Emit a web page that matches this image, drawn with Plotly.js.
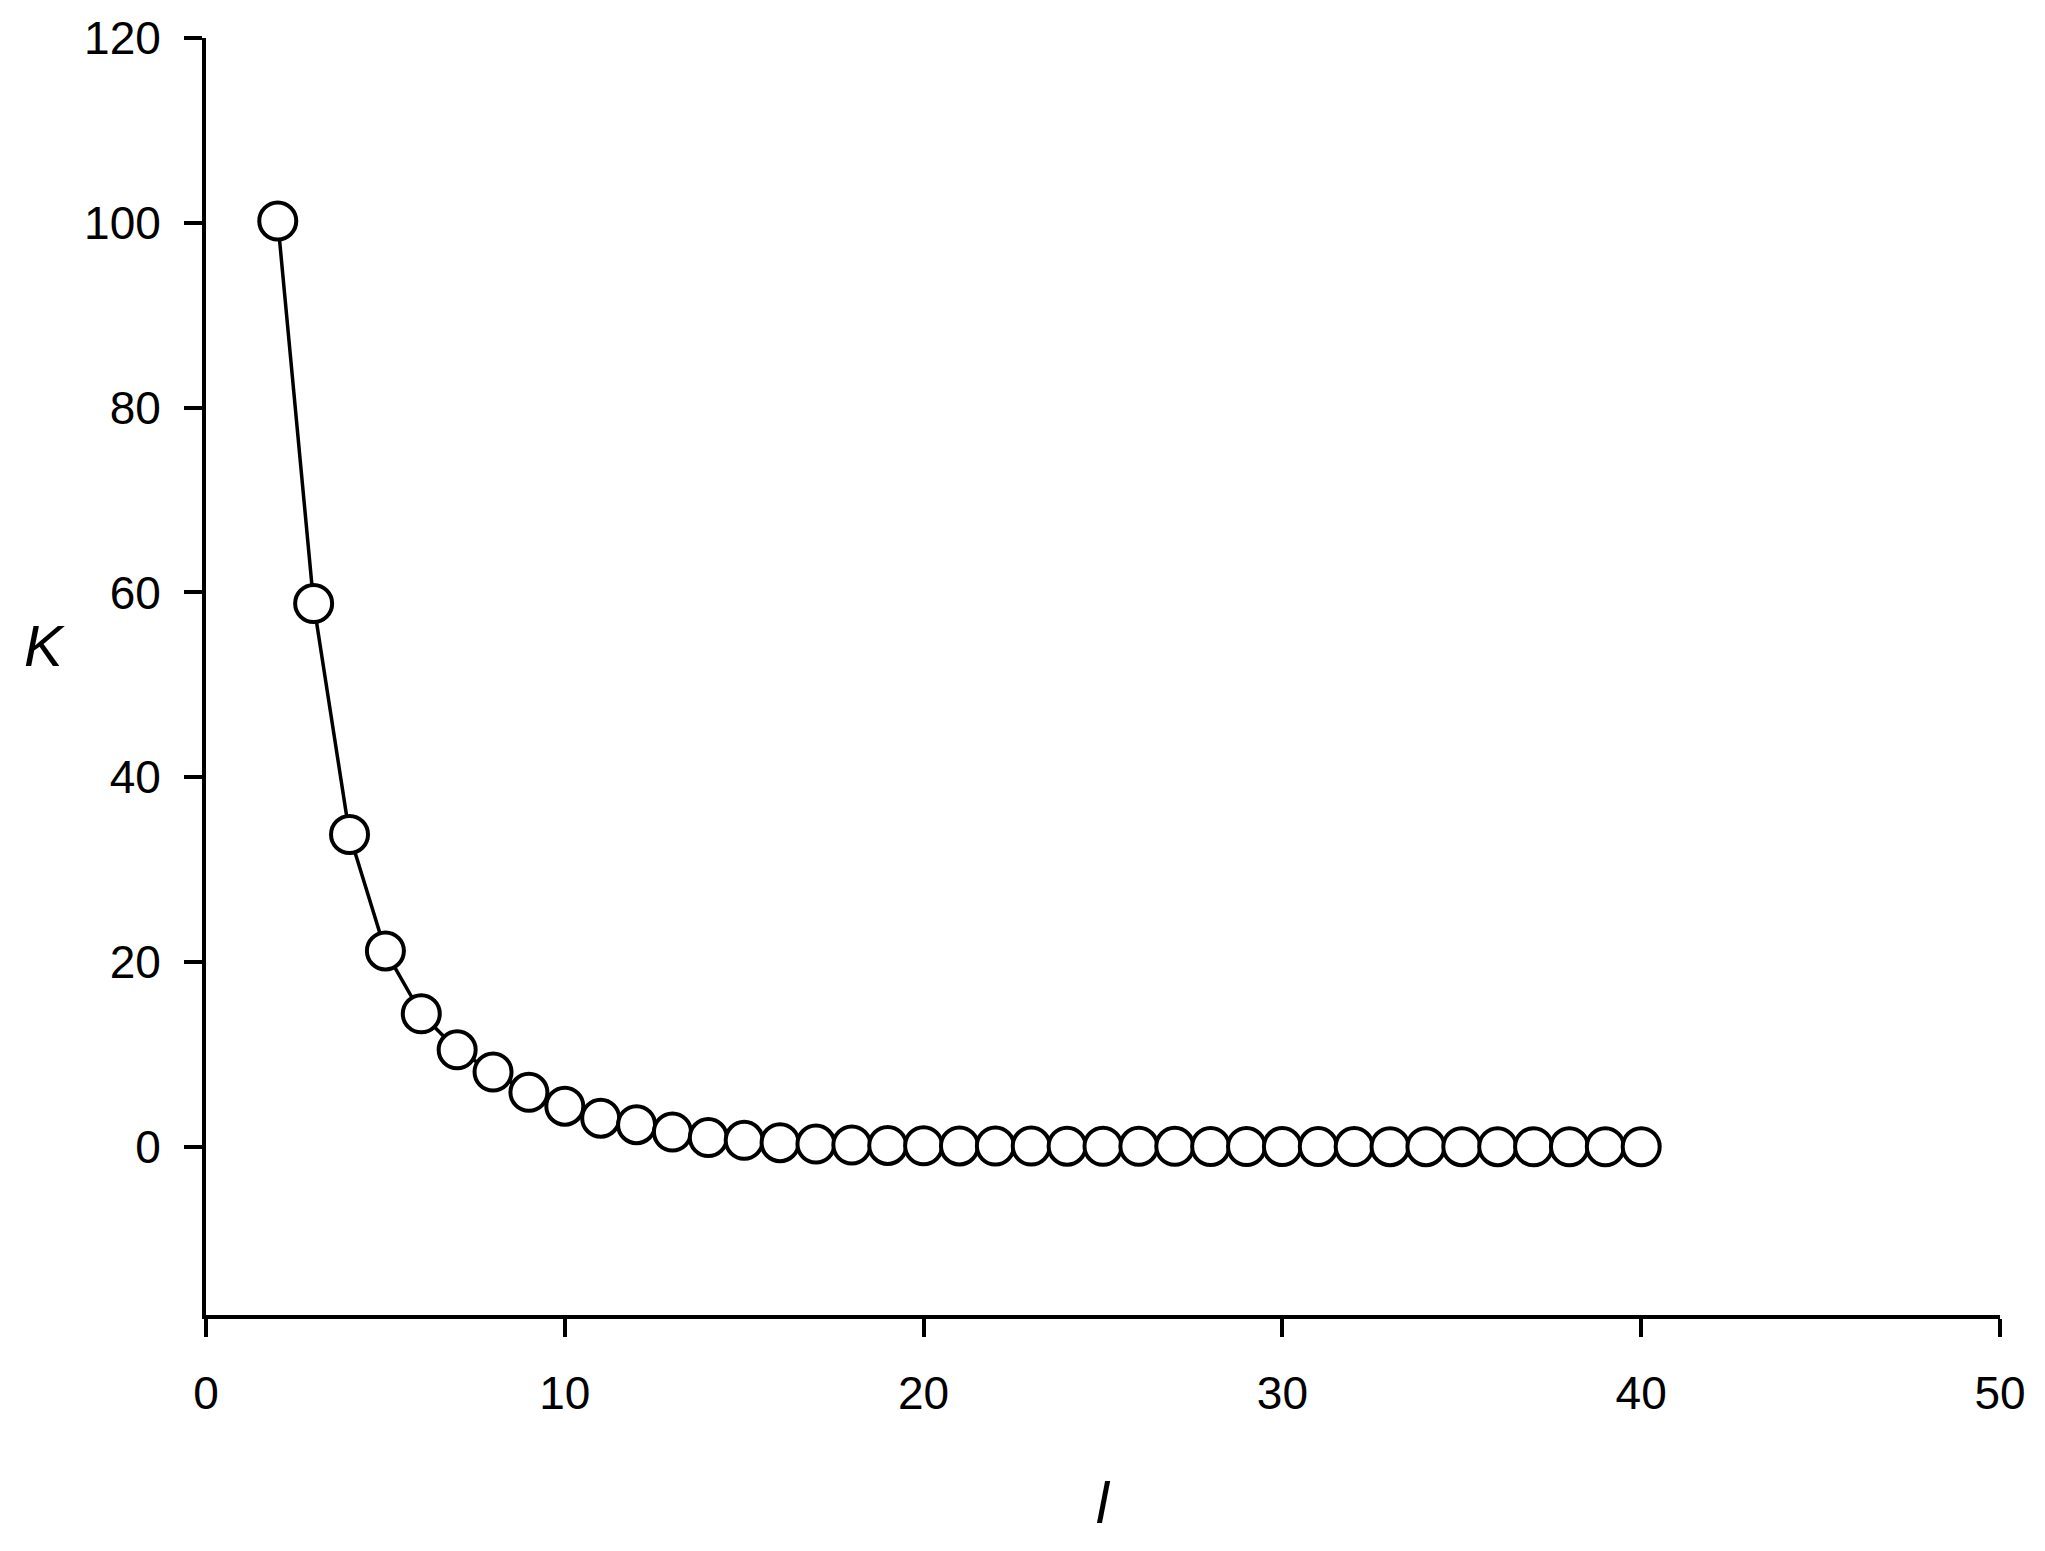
<!DOCTYPE html>
<html>
<head>
<meta charset="utf-8">
<script src="https://cdn.plot.ly/plotly-3.0.1.min.js"></script>
<style>html,body{margin:0;padding:0;background:#fff;}#chart{width:2045px;height:1551px;}</style>
</head>
<body>
<div id="chart"></div>
<script>
const lValues = [2,3,4,5,6,7,8,9,10,11,12,13,14,15,16,17,18,19,20,21,22,23,24,25,26,27,28,29,30,31,32,33,34,35,36,37,38,39,40];
const kValues = [100.2,58.8,33.8,21.2,14.4,10.5,8.1,5.9,4.4,3.1,2.4,1.6,1.0,0.7,0.45,0.3,0.2,0.15,0.12,0.1,0.09,0.08,0.07,0.06,0.05,0.05,0.04,0.04,0.03,0.03,0.03,0.02,0.02,0.02,0.02,0.01,0.01,0.01,0.01];
const xTicks = [0,10,20,30,40,50];
const yTicks = [0,20,40,60,80,100,120];
const xTitle = 'l';
const yTitle = 'K';

const font = {family: 'Liberation Sans, Arial, sans-serif', size: 46, color: '#000'};
const trace = {
  x: lValues, y: kValues, type: 'scatter', mode: 'lines+markers',
  line: {color: '#000', width: 3.5},
  marker: {symbol: 'circle', size: 37, color: '#fff', line: {color: '#000', width: 4}},
  cliponaxis: false, showlegend: false
};
const layout = {
  width: 2045, height: 1551,
  margin: {l: 206, r: 45, t: 38, b: 236},
  paper_bgcolor: '#fff', plot_bgcolor: '#fff',
  font: font,
  showlegend: false,
  xaxis: {
    range: [0, 50], tickvals: xTicks, ticktext: xTicks.map(String),
    showgrid: false, zeroline: false, showline: true, linecolor: '#000', linewidth: 4,
    ticks: 'outside', ticklen: 18, tickwidth: 4, tickcolor: '#000',
    tickfont: font, ticklabelstandoff: 17
  },
  yaxis: {
    range: [-18.2, 120], tickvals: yTicks, ticktext: yTicks.map(String),
    showgrid: false, zeroline: false, showline: true, linecolor: '#000', linewidth: 4,
    ticks: 'outside', ticklen: 18, tickwidth: 4, tickcolor: '#000',
    tickfont: font, ticklabelstandoff: 14
  },
  annotations: [
    {text: '<i>' + yTitle + '</i>', xref: 'paper', yref: 'paper', x: 0, y: 0.5, xshift: -184, yshift: 31,
     showarrow: false, font: {family: font.family, size: 58, color: '#000'}},
    {text: '<i>' + xTitle + '</i>', xref: 'paper', yref: 'paper', x: 0.5, y: 0, yshift: -222,
     showarrow: false, font: {family: font.family, size: 58, color: '#000'}}
  ]
};
Plotly.newPlot('chart', [trace], layout, {staticPlot: true, displayModeBar: false});
</script>
</body>
</html>
